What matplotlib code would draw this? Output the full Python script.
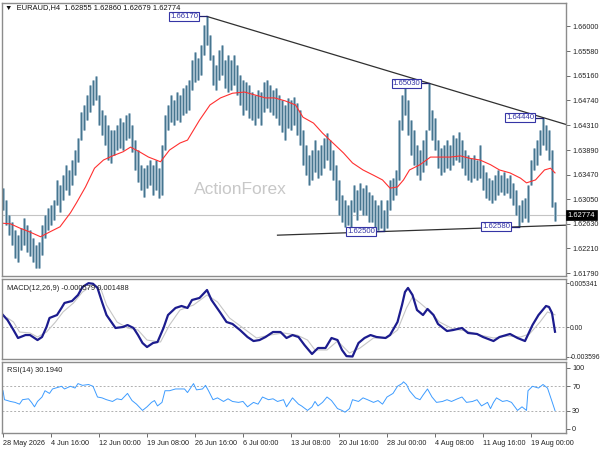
import matplotlib
matplotlib.use("Agg")
import matplotlib.pyplot as plt
import matplotlib.transforms as mtrans
import numpy as np

matplotlib.rcParams['font.family'] = ['Liberation Sans', 'DejaVu Sans']
matplotlib.rcParams['font.size'] = 5.2

"""
Data part (read off the picture, one entry every 2 H4 bars)
"""
bar_high = [
    1.6324, 1.6304, 1.6278, 1.6266, 1.6253, 1.6244, 1.6256, 1.6273, 1.6261, 1.6253,
    1.6239, 1.6227, 1.6232, 1.6261, 1.6278, 1.6290, 1.6295, 1.6304, 1.6338, 1.6329,
    1.6346, 1.6364, 1.6355, 1.6372, 1.6389, 1.6409, 1.6454, 1.6466, 1.6483, 1.6500,
    1.6509, 1.6515, 1.6483, 1.6457, 1.6449, 1.6432, 1.6423, 1.6423, 1.6432, 1.6444,
    1.6437, 1.6449, 1.6452, 1.6432, 1.6406, 1.6389, 1.6364, 1.6358, 1.6364, 1.6372,
    1.6364, 1.6372, 1.6358, 1.6398, 1.6449, 1.6466, 1.6483, 1.6474, 1.6488, 1.6483,
    1.6495, 1.6500, 1.6509, 1.6543, 1.6556, 1.6546, 1.6568, 1.6603, 1.6617, 1.6585,
    1.6551, 1.6534, 1.6560, 1.6568, 1.6543, 1.6551, 1.6543, 1.6551, 1.6534, 1.6517,
    1.6509, 1.6505, 1.6500, 1.6488, 1.6483, 1.6492, 1.6488, 1.6505, 1.6509, 1.6500,
    1.6492, 1.6495, 1.6483, 1.6474, 1.6466, 1.6478, 1.6474, 1.6480, 1.6469, 1.6457,
    1.6423, 1.6398, 1.6381, 1.6389, 1.6406, 1.6389, 1.6398, 1.6409, 1.6418, 1.6406,
    1.6389, 1.6364, 1.6338, 1.6312, 1.6304, 1.6295, 1.6304, 1.6329, 1.6321, 1.6333,
    1.6324, 1.6329, 1.6317, 1.6312, 1.6304, 1.6295, 1.6304, 1.6287, 1.6304, 1.6338,
    1.6341, 1.6355, 1.6440, 1.6483, 1.6503, 1.6474, 1.6440, 1.6423, 1.6398, 1.6389,
    1.6406, 1.6423, 1.6503, 1.6457, 1.6444, 1.6406, 1.6393, 1.6398, 1.6406, 1.6398,
    1.6415, 1.6409, 1.6420, 1.6406, 1.6389, 1.6381, 1.6375, 1.6381, 1.6372, 1.6398,
    1.6364, 1.6352, 1.6341, 1.6338, 1.6346, 1.6355, 1.6346, 1.6352, 1.6341, 1.6346,
    1.6333, 1.6321, 1.6295, 1.6304, 1.6307, 1.6329, 1.6372, 1.6393, 1.6406, 1.6423,
    1.6444, 1.6432, 1.6423, 1.6389, 1.6300]
bar_low = [
    1.6287, 1.6261, 1.6244, 1.6227, 1.6205, 1.6198, 1.6218, 1.6227, 1.6215, 1.6208,
    1.6198, 1.6188, 1.6188, 1.6210, 1.6239, 1.6253, 1.6261, 1.6270, 1.6295, 1.6283,
    1.6304, 1.6321, 1.6312, 1.6329, 1.6346, 1.6369, 1.6406, 1.6423, 1.6440, 1.6454,
    1.6466, 1.6474, 1.6432, 1.6415, 1.6398, 1.6372, 1.6367, 1.6381, 1.6389, 1.6393,
    1.6389, 1.6406, 1.6409, 1.6386, 1.6355, 1.6334, 1.6321, 1.6309, 1.6324, 1.6329,
    1.6312, 1.6321, 1.6307, 1.6312, 1.6389, 1.6423, 1.6437, 1.6432, 1.6440, 1.6437,
    1.6449, 1.6452, 1.6457, 1.6492, 1.6505, 1.6509, 1.6517, 1.6551, 1.6568, 1.6543,
    1.6500, 1.6492, 1.6509, 1.6517, 1.6495, 1.6488, 1.6492, 1.6500, 1.6483, 1.6466,
    1.6449, 1.6457, 1.6444, 1.6440, 1.6432, 1.6444, 1.6432, 1.6454, 1.6461, 1.6454,
    1.6449, 1.6444, 1.6432, 1.6420, 1.6406, 1.6427, 1.6423, 1.6432, 1.6415, 1.6398,
    1.6364, 1.6346, 1.6329, 1.6338, 1.6352, 1.6341, 1.6346, 1.6358, 1.6372, 1.6355,
    1.6338, 1.6304, 1.6278, 1.6266, 1.6258, 1.6261, 1.6256, 1.6283, 1.6270, 1.6287,
    1.6278, 1.6278, 1.6266, 1.6266, 1.6256, 1.6253, 1.6256, 1.6250, 1.6256, 1.6287,
    1.6304, 1.6312, 1.6338, 1.6423, 1.6449, 1.6415, 1.6381, 1.6364, 1.6346, 1.6338,
    1.6352, 1.6364, 1.6423, 1.6406, 1.6389, 1.6358, 1.6346, 1.6352, 1.6358, 1.6355,
    1.6364, 1.6372, 1.6369, 1.6358, 1.6346, 1.6338, 1.6334, 1.6341, 1.6338, 1.6341,
    1.6321, 1.6307, 1.6304, 1.6299, 1.6304, 1.6312, 1.6317, 1.6312, 1.6316, 1.6307,
    1.6295, 1.6278, 1.6258, 1.6266, 1.6273, 1.6266, 1.6329, 1.6355, 1.6364, 1.6381,
    1.6398, 1.6389, 1.6372, 1.6292, 1.6268]
last_close = 1.62774

# moving average (red)
ma_bar = [0, 5, 11, 18, 25, 31, 38, 45, 49, 55, 61, 67, 73, 80, 85, 91, 97, 105, 111, 118,
          123, 131, 138, 145, 153, 161, 168, 175, 181, 188, 195, 200, 207, 213, 220, 227, 233, 240, 247, 253,
          258, 263, 267, 271, 278, 285, 291, 298, 305, 311, 318, 325, 331, 338, 345, 349, 355, 361, 365, 368]
ma_val = [1.6264, 1.6263, 1.6256, 1.6249, 1.6241, 1.6249, 1.6258, 1.6282, 1.6299, 1.6326,
          1.6358, 1.6372, 1.6379, 1.6386, 1.6394, 1.6386, 1.6377, 1.6369, 1.6389, 1.6401,
          1.6406, 1.6440, 1.6466, 1.6478, 1.6486, 1.6488, 1.6483, 1.6478, 1.6478, 1.6473,
          1.6466, 1.6445, 1.6435, 1.6418, 1.6401, 1.6384, 1.6367, 1.6355, 1.6346, 1.6338,
          1.6324, 1.6326, 1.6338, 1.6355, 1.6364, 1.6377, 1.6377, 1.6377, 1.6379, 1.6375,
          1.6372, 1.6364, 1.6355, 1.6350, 1.6341, 1.6333, 1.6338, 1.6355, 1.6358, 1.6350]

# swing points (bar, price)
piv_bar = [136, 284, 360, 254, 344]
piv_val = [1.66170, 1.65030, 1.64440, 1.62500, 1.62580]

# MACD(12,26,9)
macd_bar = [0, 3, 7, 10, 15, 18, 23, 26, 29, 31, 36, 39, 41, 46, 50, 53, 57, 60, 63, 66,
            69, 75, 80, 83, 87, 90, 93, 96, 100, 103, 107, 110, 115, 119, 123, 126, 131, 136, 139, 145,
            149, 153, 158, 163, 167, 171, 175, 180, 185, 189, 193, 197, 201, 206, 210, 215, 219, 223, 226, 229,
            233, 237, 241, 245, 249, 255, 258, 263, 266, 268, 270, 273, 276, 280, 283, 287, 290, 296, 300, 306,
            310, 316, 320, 327, 331, 338, 343, 348, 353, 357, 362, 364, 366, 368]
macd_val = [0.00146, 0.00085, -0.00037, -0.00134, -0.00098, -0.00098, -0.00159, -0.00122, 0.00000, 0.00110,
            0.00146, 0.00232, 0.00293, 0.00317, 0.00390, 0.00488, 0.005341, 0.00527, 0.00476, 0.00305,
            0.00146, -0.00012, 0.00000, 0.00024, -0.00012, -0.00098, -0.00195, -0.00244, -0.00195, -0.00183,
            -0.00012, 0.00146, 0.00232, 0.00256, 0.00232, 0.00329, 0.00354, 0.00451, 0.00329, 0.00171,
            0.00061, 0.00037, -0.00037, -0.00122, -0.00171, -0.00159, -0.00122, -0.00061, -0.00061, -0.00134,
            -0.00098, -0.00122, -0.00220, -0.00329, -0.00256, -0.00256, -0.00134, -0.00159, -0.00280, -0.00355,
            -0.003596, -0.00195, -0.00134, -0.00098, -0.00122, -0.00134, -0.00098, 0.00061, 0.00268, 0.00427,
            0.00476, 0.00390, 0.00207, 0.00146, 0.00220, 0.00146, 0.00037, -0.00049, -0.00037, -0.00012,
            -0.00073, -0.00085, -0.00122, -0.00171, -0.00122, -0.00085, -0.00134, -0.00171, 0.00024, 0.00146,
            0.00256, 0.00244, 0.00171, -0.000579]
sig_bar = [3, 7, 11, 18, 23, 29, 35, 40, 47, 53, 60, 65, 69, 76, 83, 90, 96, 105, 111, 118,
           127, 136, 143, 151, 160, 169, 178, 187, 196, 203, 208, 216, 223, 231, 238, 247, 256, 263, 269, 273,
           278, 285, 291, 300, 309, 318, 327, 336, 345, 351, 358, 363, 368]
sig_val = [0.00110, 0.00061, -0.00061, -0.00073, -0.00122, -0.00061, 0.00061, 0.00183, 0.00293, 0.00427,
           0.00512, 0.00476, 0.00268, 0.00061, -0.00012, -0.00037, -0.00159, -0.00183, 0.00024, 0.00207,
           0.00268, 0.00390, 0.00305, 0.00110, -0.00012, -0.00134, -0.00098, -0.00073, -0.00098, -0.00159,
           -0.00280, -0.00280, -0.00171, -0.00317, -0.00256, -0.00134, -0.00134, -0.00037, 0.00232, 0.00366,
           0.00293, 0.00183, 0.00061, -0.00024, -0.00049, -0.00098, -0.00134, -0.00110, -0.00122, -0.00085,
           0.00061, 0.00183, 0.001488]

# RSI(14)
rsi_bar = [0, 1, 5, 8, 11, 13, 17, 19, 21, 23, 26, 28, 31, 33, 37, 39, 41, 45, 48, 50,
           53, 57, 60, 63, 66, 69, 73, 76, 79, 83, 86, 89, 93, 96, 99, 101, 103, 106, 108, 111,
           115, 118, 121, 123, 127, 129, 133, 135, 137, 140, 143, 147, 150, 153, 157, 160, 163, 167, 170, 173,
           177, 180, 183, 187, 189, 193, 197, 199, 203, 206, 208, 210, 213, 216, 219, 223, 226, 228, 231, 233,
           237, 240, 243, 247, 250, 253, 256, 260, 263, 266, 267, 269, 271, 275, 278, 280, 283, 286, 289, 293,
           296, 299, 303, 306, 309, 313, 316, 319, 323, 325, 327, 329, 333, 336, 339, 343, 346, 349, 350, 353,
           357, 360, 363, 366, 368]
rsi_val = [62.7, 48.0, 45.1, 43.6, 40.7, 48.0, 49.5, 43.6, 36.3, 45.1,
           52.4, 62.7, 58.3, 65.6, 68.5, 70.0, 65.6, 70.0, 67.1, 74.4,
           71.5, 72.9, 70.0, 52.4, 51.0, 48.0, 45.1, 49.5, 48.0, 58.3,
           46.6, 40.7, 30.4, 36.3, 43.6, 46.6, 37.8, 43.6, 62.7, 62.7,
           65.6, 65.6, 65.6, 59.7, 74.4, 64.1, 65.6, 71.5, 62.7, 48.0,
           51.0, 45.1, 49.5, 45.1, 43.6, 45.1, 36.3, 43.6, 40.7, 52.4,
           48.0, 49.5, 45.1, 48.0, 36.3, 51.0, 40.7, 37.8, 30.4, 36.3,
           45.1, 37.8, 43.6, 52.4, 46.6, 33.4, 30.4, 27.5, 33.4, 48.0,
           45.1, 51.0, 48.0, 43.6, 46.6, 40.7, 52.4, 58.3, 70.0, 74.4,
           77.3, 72.9, 62.7, 51.0, 48.0, 55.4, 65.6, 52.4, 43.6, 45.1,
           48.0, 45.1, 49.5, 52.4, 43.6, 45.1, 48.0, 37.8, 43.6, 33.4,
           43.6, 51.0, 45.1, 46.6, 43.6, 30.4, 36.3, 30.4, 62.7, 70.0,
           67.1, 72.9, 67.1, 45.1, 30.194]

# axis labels
price_ticks = [1.66000, 1.65580, 1.65160, 1.64740, 1.64310, 1.63890,
               1.63470, 1.63050, 1.62630, 1.62210, 1.61790]
macd_ticks = [0.005341, 0.0, -0.003596]
macd_labels = ["0.005341", "0.00", "-0.003596"]
rsi_ticks = [100, 70, 30, 0]
date_bars = [0, 32, 64, 96, 128, 160, 192, 224, 256, 288, 320, 352]
date_labels = ["28 May 2026", "4 Jun 16:00", "12 Jun 00:00", "19 Jun 08:00",
               "26 Jun 16:00", "6 Jul 00:00", "13 Jul 08:00", "20 Jul 16:00",
               "28 Jul 00:00", "4 Aug 08:00", "11 Aug 16:00", "19 Aug 00:00"]

W, H = 600.0, 450.0
BAR_CORE = "#46758f"
BAR_HALO = "#a9c2d2"
LABEL_BLUE = "#3535a5"


def px_rect(x0, y0, x1, y1):
    return [x0 / W, 1 - y1 / H, (x1 - x0) / W, (y1 - y0) / H]


def style_panel(ax, lsize=5.2):
    for s in ax.spines.values():
        s.set_color("#8c8c8c")
        s.set_linewidth(1.0)
    ax.yaxis.tick_right()
    ax.tick_params(axis="y", direction="out", length=3, width=0.6,
                   colors="#555555", labelcolor="#222222", labelsize=lsize, pad=1.5)
    ax.tick_params(axis="x", bottom=False, labelbottom=False)


fig = plt.figure(figsize=(6, 4.5), dpi=100)
fig.patch.set_facecolor("white")
ax = fig.add_axes(px_rect(2, 3, 566, 276))
ax_m = fig.add_axes(px_rect(2, 279, 566, 359), sharex=ax)
ax_r = fig.add_axes(px_rect(2, 362, 566, 433), sharex=ax)
style_panel(ax)
style_panel(ax_m, 4.85)
style_panel(ax_r)
ax_m.tick_params(axis="y", length=2, pad=0.6)

x_st, x_ed = -0.67, 375.33
ax.set_xlim([x_st, x_ed])

"""
Price panel
"""
bars = np.arange(len(bar_high)) * 2
ax.vlines(bars, bar_low, bar_high, color=BAR_HALO, linewidth=2.0)
ax.vlines(bars, bar_low, bar_high, color=BAR_CORE, linewidth=0.95)
ax.plot(ma_bar, ma_val, color="#ff3030", linewidth=0.8)
ax.axhline(last_close, color="#c4c4c4", linewidth=0.8, zorder=0)

# trend lines through swing points
up_slope = (piv_val[1] - piv_val[0]) / (piv_bar[1] - piv_bar[0])
ax.plot([piv_bar[0], x_ed], [piv_val[0], piv_val[0] + up_slope * (x_ed - piv_bar[0])],
        color="#303030", linewidth=0.9)
lo_slope = (piv_val[4] - piv_val[3]) / (piv_bar[4] - piv_bar[3])
lo_start = 183
ax.plot([lo_start, x_ed], [piv_val[3] + lo_slope * (lo_start - piv_bar[3]),
                           piv_val[3] + lo_slope * (x_ed - piv_bar[3])],
        color="#303030", linewidth=0.9)

for b, v in zip(piv_bar, piv_val):
    ax.plot([b - 5.5, b], [v, v], color="#202070", linewidth=0.9)
    ax.text(b - 5.8, v, "%.5f" % v, ha="right", va="center", color=LABEL_BLUE, fontsize=5.6,
            bbox=dict(boxstyle="square,pad=0.12", fc="white", ec=LABEL_BLUE, lw=0.8))

ax.set_ylim([1.6174, 1.6640])
ax.set_yticks(price_ticks)
ax.set_yticklabels(["%.5f" % v for v in price_ticks])

trans = mtrans.blended_transform_factory(ax.transAxes, ax.transData)
ax.text(1.003, last_close, "%.5f" % last_close, transform=trans, ha="left", va="center",
        color="white", fontsize=5.4,
        bbox=dict(boxstyle="square,pad=0.2", fc="black", ec="black", lw=0.5))

fig.text(5 / W, 1 - 7.5 / H, "\u25bc  EURAUD,H4  1.62855 1.62860 1.62679 1.62774",
         ha="left", va="center", color="#111111", fontsize=5.4)
fig.text(240 / W, 1 - 190 / H, "ActionForex", ha="center", va="center",
         color="#c8c8c8", fontsize=12.5)

"""
MACD panel
"""
ax_m.axhline(0, color="#b0b0b0", linewidth=0.7, linestyle=(0, (2, 2)))
ax_m.plot(sig_bar, sig_val, color="#c6c6c6", linewidth=0.8)
ax_m.plot(macd_bar, macd_val, color="#1c1c8e", linewidth=1.6)
ax_m.set_ylim([-0.0039, 0.00585])
ax_m.set_yticks(macd_ticks)
ax_m.set_yticklabels(macd_labels)
ax_m.text(0.008, 0.93, "MACD(12,26,9) -0.000579 0.001488", transform=ax_m.transAxes,
          ha="left", va="top", color="#222222", fontsize=5.4)

"""
RSI panel
"""
for lv in (70, 30):
    ax_r.axhline(lv, color="#b0b0b0", linewidth=0.7, linestyle=(0, (2, 2)))
ax_r.plot(rsi_bar, rsi_val, color="#3d9cff", linewidth=0.7)
ax_r.set_ylim([-6.6, 109.8])
ax_r.set_yticks(rsi_ticks)
ax_r.set_yticklabels([str(v) for v in rsi_ticks])
ax_r.text(0.008, 0.93, "RSI(14) 30.1940", transform=ax_r.transAxes,
          ha="left", va="top", color="#222222", fontsize=5.4)

ax_r.tick_params(axis="x", bottom=True, labelbottom=True, direction="out", length=3,
                 width=0.6, colors="#555555", labelcolor="#222222", labelsize=5.2, pad=2)
ax_r.set_xticks(date_bars)
ax_r.set_xticklabels(date_labels, ha="left")

fig.savefig("out.png", dpi=100, facecolor="white")
plt.close(fig)
